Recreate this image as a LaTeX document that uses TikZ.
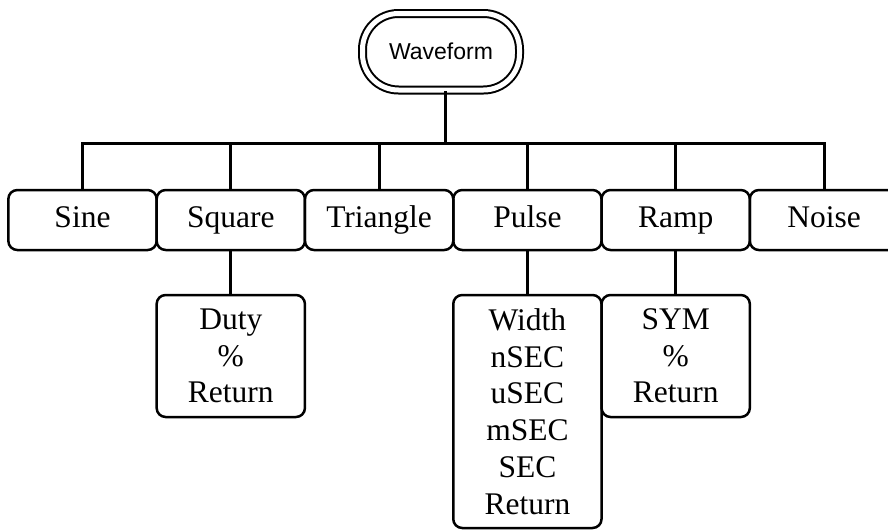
\documentclass[tikz,border=0pt]{standalone}
\usepackage{fontspec}
\setmainfont{Liberation Serif}
\newfontfamily\wffont{Liberation Sans}
\usetikzlibrary{positioning}

\begin{document}
\begin{tikzpicture}[x=1pt,y=-1pt,
    wire/.style={line width=3pt},
    menubox/.style={draw,line width=2.5pt,rounded corners=9pt,outer sep=0pt,inner sep=2pt,
      minimum width=148.3pt,align=center,font=\fontsize{31.5}{36.7}\selectfont},
    topbox/.style={menubox,minimum height=60pt,text height=22pt,text depth=7pt},
    rootbox/.style={draw,line width=2pt,double,double distance=5pt,rounded corners=36pt,
      minimum width=157pt,minimum height=76.5pt,font=\wffont\fontsize{23}{26}\selectfont}]
    \clip (0,0) rectangle (888,530);
    \fill[white] (0,0) rectangle (888,530);
    % root
    \node[rootbox] (wf) at (441,51.75) {Waveform};
    % first menu row
    \node[topbox] (sine) at (82.5,220) {Sine};
    \node[topbox,right=0pt of sine] (square) {Square};
    \node[topbox,right=0pt of square] (triangle) {Triangle};
    \node[topbox,right=0pt of triangle] (pulse) {Pulse};
    \node[topbox,right=0pt of pulse] (ramp) {Ramp};
    \node[topbox,right=0pt of ramp] (noise) {Noise};
    % sub menus
    \node[menubox,minimum height=122pt,below=45pt of square,anchor=north] (duty) {Duty\\\%\\Return};
    \node[menubox,minimum height=233pt,below=45pt of pulse,anchor=north] (width) {Width\\nSEC\\uSEC\\mSEC\\SEC\\Return};
    \node[menubox,minimum height=122pt,below=45pt of ramp,anchor=north] (sym) {SYM\\\%\\Return};
    % connectors
    \coordinate (bus) at (0,143);
    \draw[wire] ([xshift=4.5pt]wf.south) -- ([xshift=4.5pt]wf.south |- bus);
    \draw[wire] (sine.north) -- (sine.north |- bus) -- (noise.north |- bus) -- (noise.north);
    \foreach \n in {square,triangle,pulse,ramp}
      \draw[wire] (\n.north) -- (\n.north |- bus);
    \draw[wire] (square) -- (duty);
    \draw[wire] (pulse) -- (width);
    \draw[wire] (ramp) -- (sym);
\end{tikzpicture}
\end{document}
